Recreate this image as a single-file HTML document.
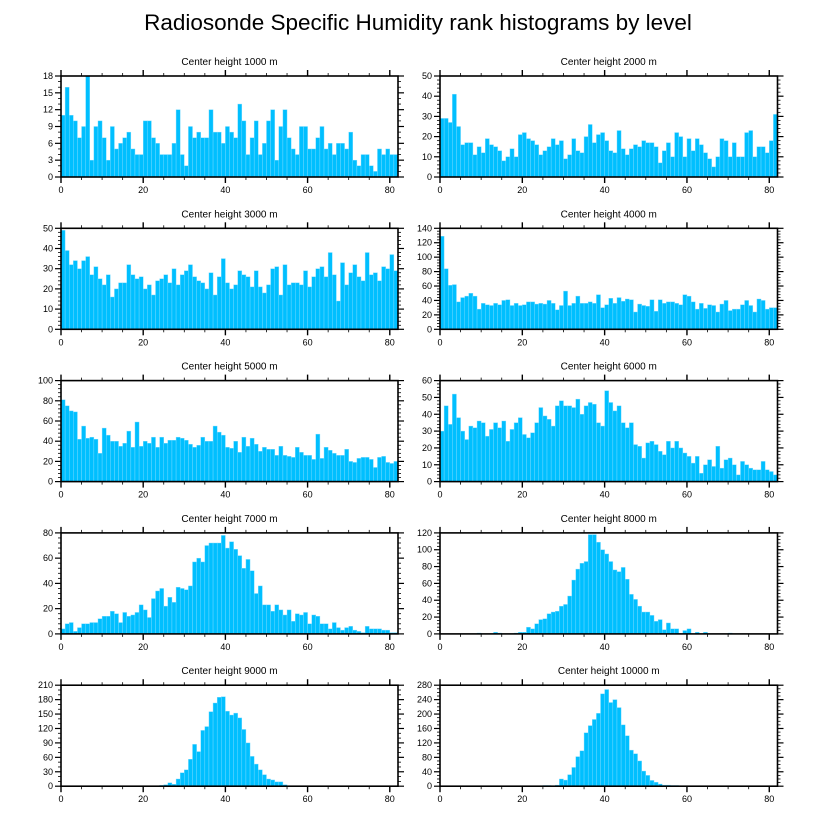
<!DOCTYPE html>
<html><head><meta charset="utf-8"><style>
html,body{margin:0;padding:0;background:#fff;}
svg{display:block;font-family:"Liberation Sans",sans-serif;}
</style></head><body>
<svg id="chart" width="816" height="824" viewBox="0 0 816 824">
<text x="418" y="30" font-size="22.5" text-anchor="middle" fill="#000">Radiosonde Specific Humidity rank histograms by level</text>
</svg>
<script>
const titles = ["Center height 1000 m","Center height 2000 m","Center height 3000 m","Center height 4000 m","Center height 5000 m","Center height 6000 m","Center height 7000 m","Center height 8000 m","Center height 9000 m","Center height 10000 m"];
const yMaxes = [18,50,50,140,100,60,80,120,210,280];
const ySteps = [3,10,10,20,20,10,20,20,30,40];
const xTicks = [0,20,40,60,80];
const h1000 = [11,16,11,10,7,9,18,3,9,10,7,3,9,5,6,7,8,5,4,4,10,10,7,6,4,4,4,6,12,4,2,9,7,8,7,7,12,8,8,6,9,8,7,13,10,4,7,10,4,6,10,12,3,9,12,7,5,4,9,9,5,5,7,9,5,6,4,6,6,5,8,3,2,4,4,2,1,5,4,5,4,4];
const h2000 = [29,29,27,41,25,16,17,17,11,15,12,19,16,15,13,8,10,14,10,21,22,19,18,16,11,13,15,19,16,18,9,11,19,13,12,20,26,17,21,22,18,13,12,23,14,11,14,16,15,18,17,17,15,7,13,17,10,22,20,10,19,13,19,16,12,9,5,10,19,18,10,17,10,10,22,23,10,15,15,12,18,31];
const h3000 = [49,39,32,34,30,34,36,27,31,25,22,27,16,20,23,23,32,27,25,26,20,22,17,24,25,27,23,30,22,27,29,32,26,24,23,20,28,17,26,35,23,20,22,29,27,26,21,29,21,18,22,30,31,17,32,22,23,23,22,29,21,26,30,31,26,38,27,14,33,22,28,32,26,24,38,27,28,24,31,30,37,29];
const h4000 = [129,84,61,62,38,44,46,50,46,28,36,34,33,36,34,40,41,33,36,33,34,38,38,35,36,35,40,36,27,33,53,33,36,46,36,36,38,36,48,30,34,43,36,44,39,42,41,24,35,33,32,41,25,41,36,38,38,36,34,48,46,38,28,36,29,34,33,24,35,40,26,28,28,34,40,33,24,42,40,28,30,30];
const h5000 = [81,75,70,69,42,55,43,44,42,28,53,46,40,40,35,38,50,34,59,35,40,38,44,34,44,38,41,41,44,43,41,37,34,36,44,40,40,55,49,46,34,33,40,29,44,35,43,37,30,34,32,32,26,35,26,25,24,34,29,26,26,22,47,23,34,31,28,26,26,32,20,19,23,24,24,22,14,24,25,19,18,20];
const h6000 = [30,45,34,52,38,30,25,33,32,36,35,27,31,35,32,36,24,31,35,38,28,26,29,35,44,39,37,33,45,48,45,45,44,49,40,45,47,46,35,33,54,47,42,45,35,32,35,22,21,14,23,24,22,18,16,24,20,24,20,17,15,11,15,5,10,13,9,21,8,13,14,10,4,12,10,8,7,7,12,7,6,4];
const h7000 = [4,8,9,2,5,8,8,9,9,12,14,14,18,16,9,17,14,15,17,23,19,13,28,34,36,22,29,25,37,36,35,38,57,60,57,70,72,72,72,78,68,73,67,62,52,59,50,32,38,23,23,18,23,19,15,19,10,16,15,17,8,15,14,8,8,4,9,5,3,5,6,3,2,1,6,4,4,4,3,3,1,1];
const h8000 = [0,0,0,0,0,0,0,0,0,1,0,0,0,2,1,0,0,0,1,2,2,8,6,12,17,18,24,26,27,33,35,45,64,77,84,86,118,118,109,100,95,86,76,74,79,65,47,41,33,26,26,22,15,17,5,13,6,6,0,4,6,0,2,0,2,0,0,0,0,0,1,0,0,0,0,0,0,0,0,0,0,0];
const h9000 = [0,0,0,0,0,0,0,0,0,0,0,0,0,0,0,0,0,0,0,0,0,0,1,0,2,3,7,4,15,28,34,56,87,72,116,124,155,173,185,186,156,148,152,142,118,90,62,46,34,24,15,13,9,9,3,1,0,1,0,0,1,0,0,0,0,0,0,0,0,0,0,0,0,0,0,0,0,0,0,0,0,0];
const h10000 = [0,0,0,0,0,0,0,0,0,0,0,0,0,0,0,0,0,0,0,0,0,0,0,0,0,2,2,1,3,20,17,32,52,82,98,148,168,185,202,256,268,232,240,218,170,140,100,90,70,42,30,16,11,6,3,3,2,2,1,0,0,1,0,0,0,0,0,0,0,0,0,0,0,0,0,0,0,0,0,0,0,0];

const series = [h1000,h2000,h3000,h4000,h5000,h6000,h7000,h8000,h9000,h10000];
const NS = "http://www.w3.org/2000/svg";
const svg = document.getElementById('chart');
const XMAX = 82;
function mk(tag, attrs, parent){ const e=document.createElementNS(NS,tag); for(const k in attrs) e.setAttribute(k,attrs[k]); (parent||svg).appendChild(e); return e; }

series.forEach((data, p) => {
  const col = p % 2, row = Math.floor(p/2);
  const L = col ? 440 : 61, R = col ? 777.5 : 398, T = 76 + row*152.3, B = T + 101;
  const g = mk('g', {});
  
  
  const xs = v => L + (R-L)*v/XMAX;
  const ys = v => B - (B-T)*v/yMaxes[p];
  const t = mk('text', {x:(L+R)/2, y:T-11, 'font-size':10, 'text-anchor':'middle'}, g);
  t.textContent = titles[p];
  
  
  data.forEach((v, i) => {
    const y = ys(Math.min(v, yMaxes[p]));
    const r = mk('rect', {x:xs(i), y:y, width:xs(i+1)-xs(i), height:B-y, fill:'#00bfff', stroke:'#80dcff', 'stroke-width':0.4}, g);
    
    
  });
  for (let v=0; v<=80; v+=5) {
    const major = v % 20 === 0, len = major ? 6 : 3, x = xs(v);
    mk('line', {x1:x, x2:x, y1:B, y2:B+len, stroke:'#000', 'stroke-width':major?1.4:0.8}, g);
    mk('line', {x1:x, x2:x, y1:T, y2:T-len, stroke:'#000', 'stroke-width':major?1.4:0.8}, g);
  }
  xTicks.forEach(v => {
    const tl = mk('text', {x:xs(v), y:B+16, 'font-size':9, 'text-anchor':'middle'}, g);
    tl.textContent = v;
    
    
  });
  const st = ySteps[p], nm = (st===3||st===30) ? 3 : (st===40 ? 4 : 5), minor = st/nm;
  for (let k=0; k*minor <= yMaxes[p]+1e-6; k++) {
    const v = k*minor, major = k % nm === 0, len = major ? 6 : 3, y = ys(v);
    mk('line', {x1:L, x2:L-len, y1:y, y2:y, stroke:'#000', 'stroke-width':major?1.2:0.8}, g);
    mk('line', {x1:R, x2:R+len, y1:y, y2:y, stroke:'#000', 'stroke-width':major?1.2:0.8}, g);
    if (major) {
      const tl = mk('text', {x:L-8, y:y+3, 'font-size':9, 'text-anchor':'end'}, g);
      tl.textContent = Math.round(v);
      
      
    }
  }
  const fr = mk('rect', {x:L, y:T, width:R-L, height:B-T, fill:'none', stroke:'#000', 'stroke-width':1.6}, g);
  
  
});
</script>
</body></html>
